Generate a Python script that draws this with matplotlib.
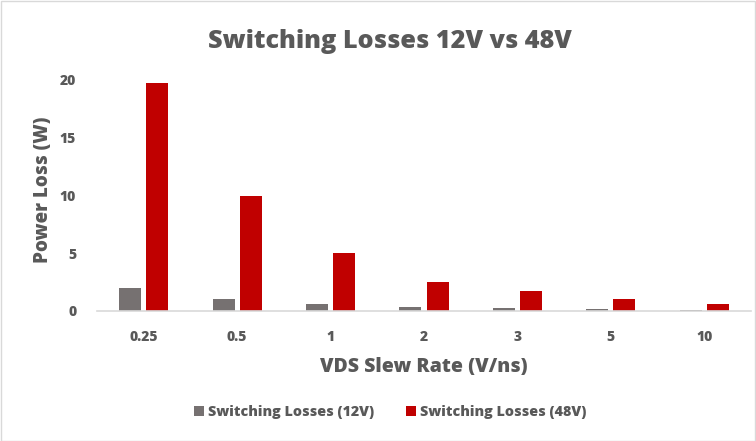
import matplotlib
matplotlib.use("Agg")
import matplotlib.pyplot as plt
import numpy as np
from matplotlib.patches import Rectangle

categories = ["0.25", "0.5", "1", "2", "3", "5", "10"]
losses_12v = [2.0, 1.0, 0.58, 0.35, 0.23, 0.14, 0.12]
losses_48v = [19.7, 9.9, 5.0, 2.5, 1.7, 1.0, 0.6]
series_names = ["Switching Losses (12V)", "Switching Losses (48V)"]

plt.rcParams['font.family'] = ['Open Sans', 'DejaVu Sans']
txt = '#595959'
fw = 'heavy'
W, H = 756, 441
fig = plt.figure(figsize=(W/100, H/100), dpi=100)
fig.patches.append(Rectangle((0.5/W, 0.5/H), 1-1.5/W, 1-1.5/H, transform=fig.transFigure,
                             fill=False, edgecolor='#d9d9d9', linewidth=1))
ax = fig.add_axes([97/W, 1-311/H, (751-97)/W, (311-68)/H])
x = np.arange(len(categories))
bw = 0.235
ax.bar(x - 0.145, losses_12v, bw, color='#767171', label=series_names[0])
ax.bar(x + 0.145, losses_48v, bw, color='#c00000', label=series_names[1])
ax.set_xlim(-0.5, len(categories) - 0.5)
ax.set_ylim(0, 21)
ax.set_yticks([0, 5, 10, 15, 20])
ax.set_xticks(x)
ax.set_xticklabels(categories)
for s in ['top', 'right', 'left']:
    ax.spines[s].set_visible(False)
ax.spines['bottom'].set_color('#d9d9d9')
ax.spines['bottom'].set_linewidth(1.2)
ax.tick_params(axis='both', length=0, labelsize=10, labelcolor=txt)
ax.tick_params(axis='y', pad=15)
ax.tick_params(axis='x', pad=14)
for lab in ax.get_xticklabels() + ax.get_yticklabels():
    lab.set_fontweight(fw)
ax.set_ylabel("Power Loss (W)", fontsize=13.5, fontweight=fw, color=txt, labelpad=5)
ax.set_xlabel("VDS Slew Rate (V/ns)", fontsize=14, fontweight=fw, color=txt, labelpad=9)
fig.text(390/W, 1-41/H, "Switching Losses 12V vs 48V", ha='center', va='center',
         fontsize=18.2, fontweight=fw, color=txt)
leg = fig.legend(loc='center', bbox_to_anchor=(390/W, 1-412/H), ncol=2, frameon=False,
                 fontsize=10.3, handlelength=0.7, handleheight=0.7, handletextpad=0.3,
                 columnspacing=2.2)
for t in leg.get_texts():
    t.set_color(txt)
    t.set_fontweight(fw)
fig.savefig("out.png", dpi=100)
